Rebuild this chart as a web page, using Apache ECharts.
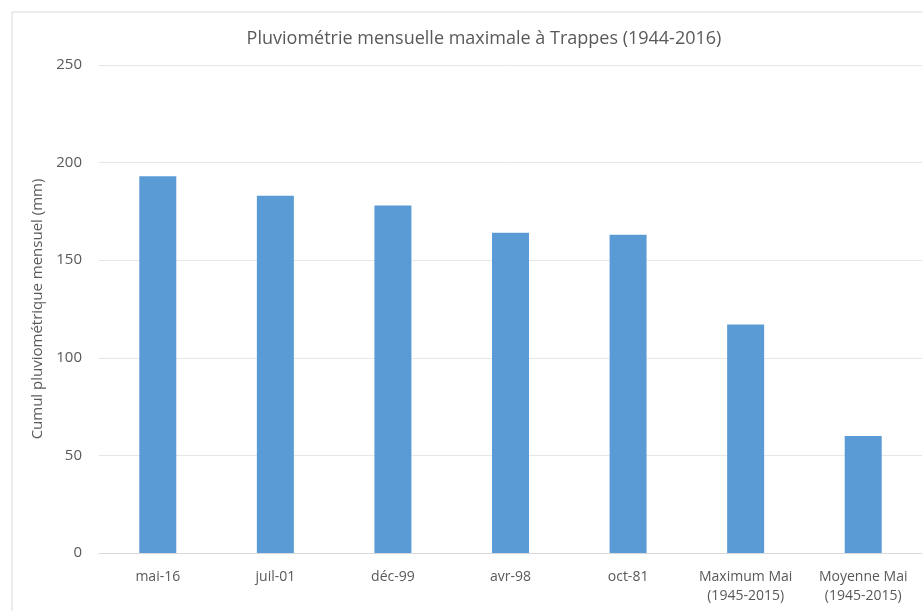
<!DOCTYPE html>
<html>
<head>
<meta charset="utf-8">
<script src="https://cdn.jsdelivr.net/npm/echarts@6/dist/echarts.min.js"></script>
<style>
  html, body { margin: 0; padding: 0; background: #fff; }
  #main { width: 922px; height: 611px; }
</style>
</head>
<body>
<div id="main"></div>
<script>
// données
var categories = ['mai-16', 'juil-01', 'déc-99', 'avr-98', 'oct-81',
    'Maximum Mai\n(1945-2015)', 'Moyenne Mai\n(1945-2015)'];
var cumuls = [193, 183, 178, 164, 163, 117, 60];
var yTicks = { min: 0, max: 250, interval: 50 };

var myChart = echarts.init(document.getElementById('main'));

var textColor = '#595959';
var font = '"Open Sans", Lato, sans-serif';

myChart.setOption({
    animation: false,
    textStyle: { fontFamily: font },
    title: {
        text: 'Pluviométrie mensuelle maximale à Trappes (1944-2016)',
        left: 479,
        textAlign: 'center',
        top: 25,
        textStyle: { fontSize: 18, fontWeight: 'normal', color: textColor, fontFamily: font }
    },
    graphic: [{
        type: 'polyline',
        shape: { points: [[12, 611], [12, 12], [922, 12]] },
        style: { stroke: '#d9d9d9', fill: null, lineWidth: 1 }
    }],
    grid: { left: 99, top: 65, width: 830, height: 488 },
    xAxis: {
        type: 'category',
        data: categories,
        axisTick: { show: false },
        axisLine: { lineStyle: { color: '#d9d9d9' } },
        axisLabel: {
            interval: 0,
            hideOverlap: false,
            color: textColor, fontSize: 14, margin: 15, lineHeight: 19, fontFamily: font
        }
    },
    yAxis: {
        type: 'value',
        min: yTicks.min,
        max: yTicks.max,
        interval: yTicks.interval,
        name: 'Cumul pluviométrique mensuel (mm)',
        nameLocation: 'middle',
        nameGap: 49,
        nameTextStyle: { color: textColor, fontSize: 15, fontFamily: font },
        axisLine: { show: false },
        axisTick: { show: false },
        axisLabel: { color: textColor, fontSize: 15, margin: 17, fontFamily: font },
        splitLine: { lineStyle: { color: '#e6e6e6' } }
    },
    series: [{
        type: 'bar',
        data: cumuls,
        barWidth: 37,
        itemStyle: { color: '#5b9bd5' }
    }]
});
</script>
</body>
</html>
